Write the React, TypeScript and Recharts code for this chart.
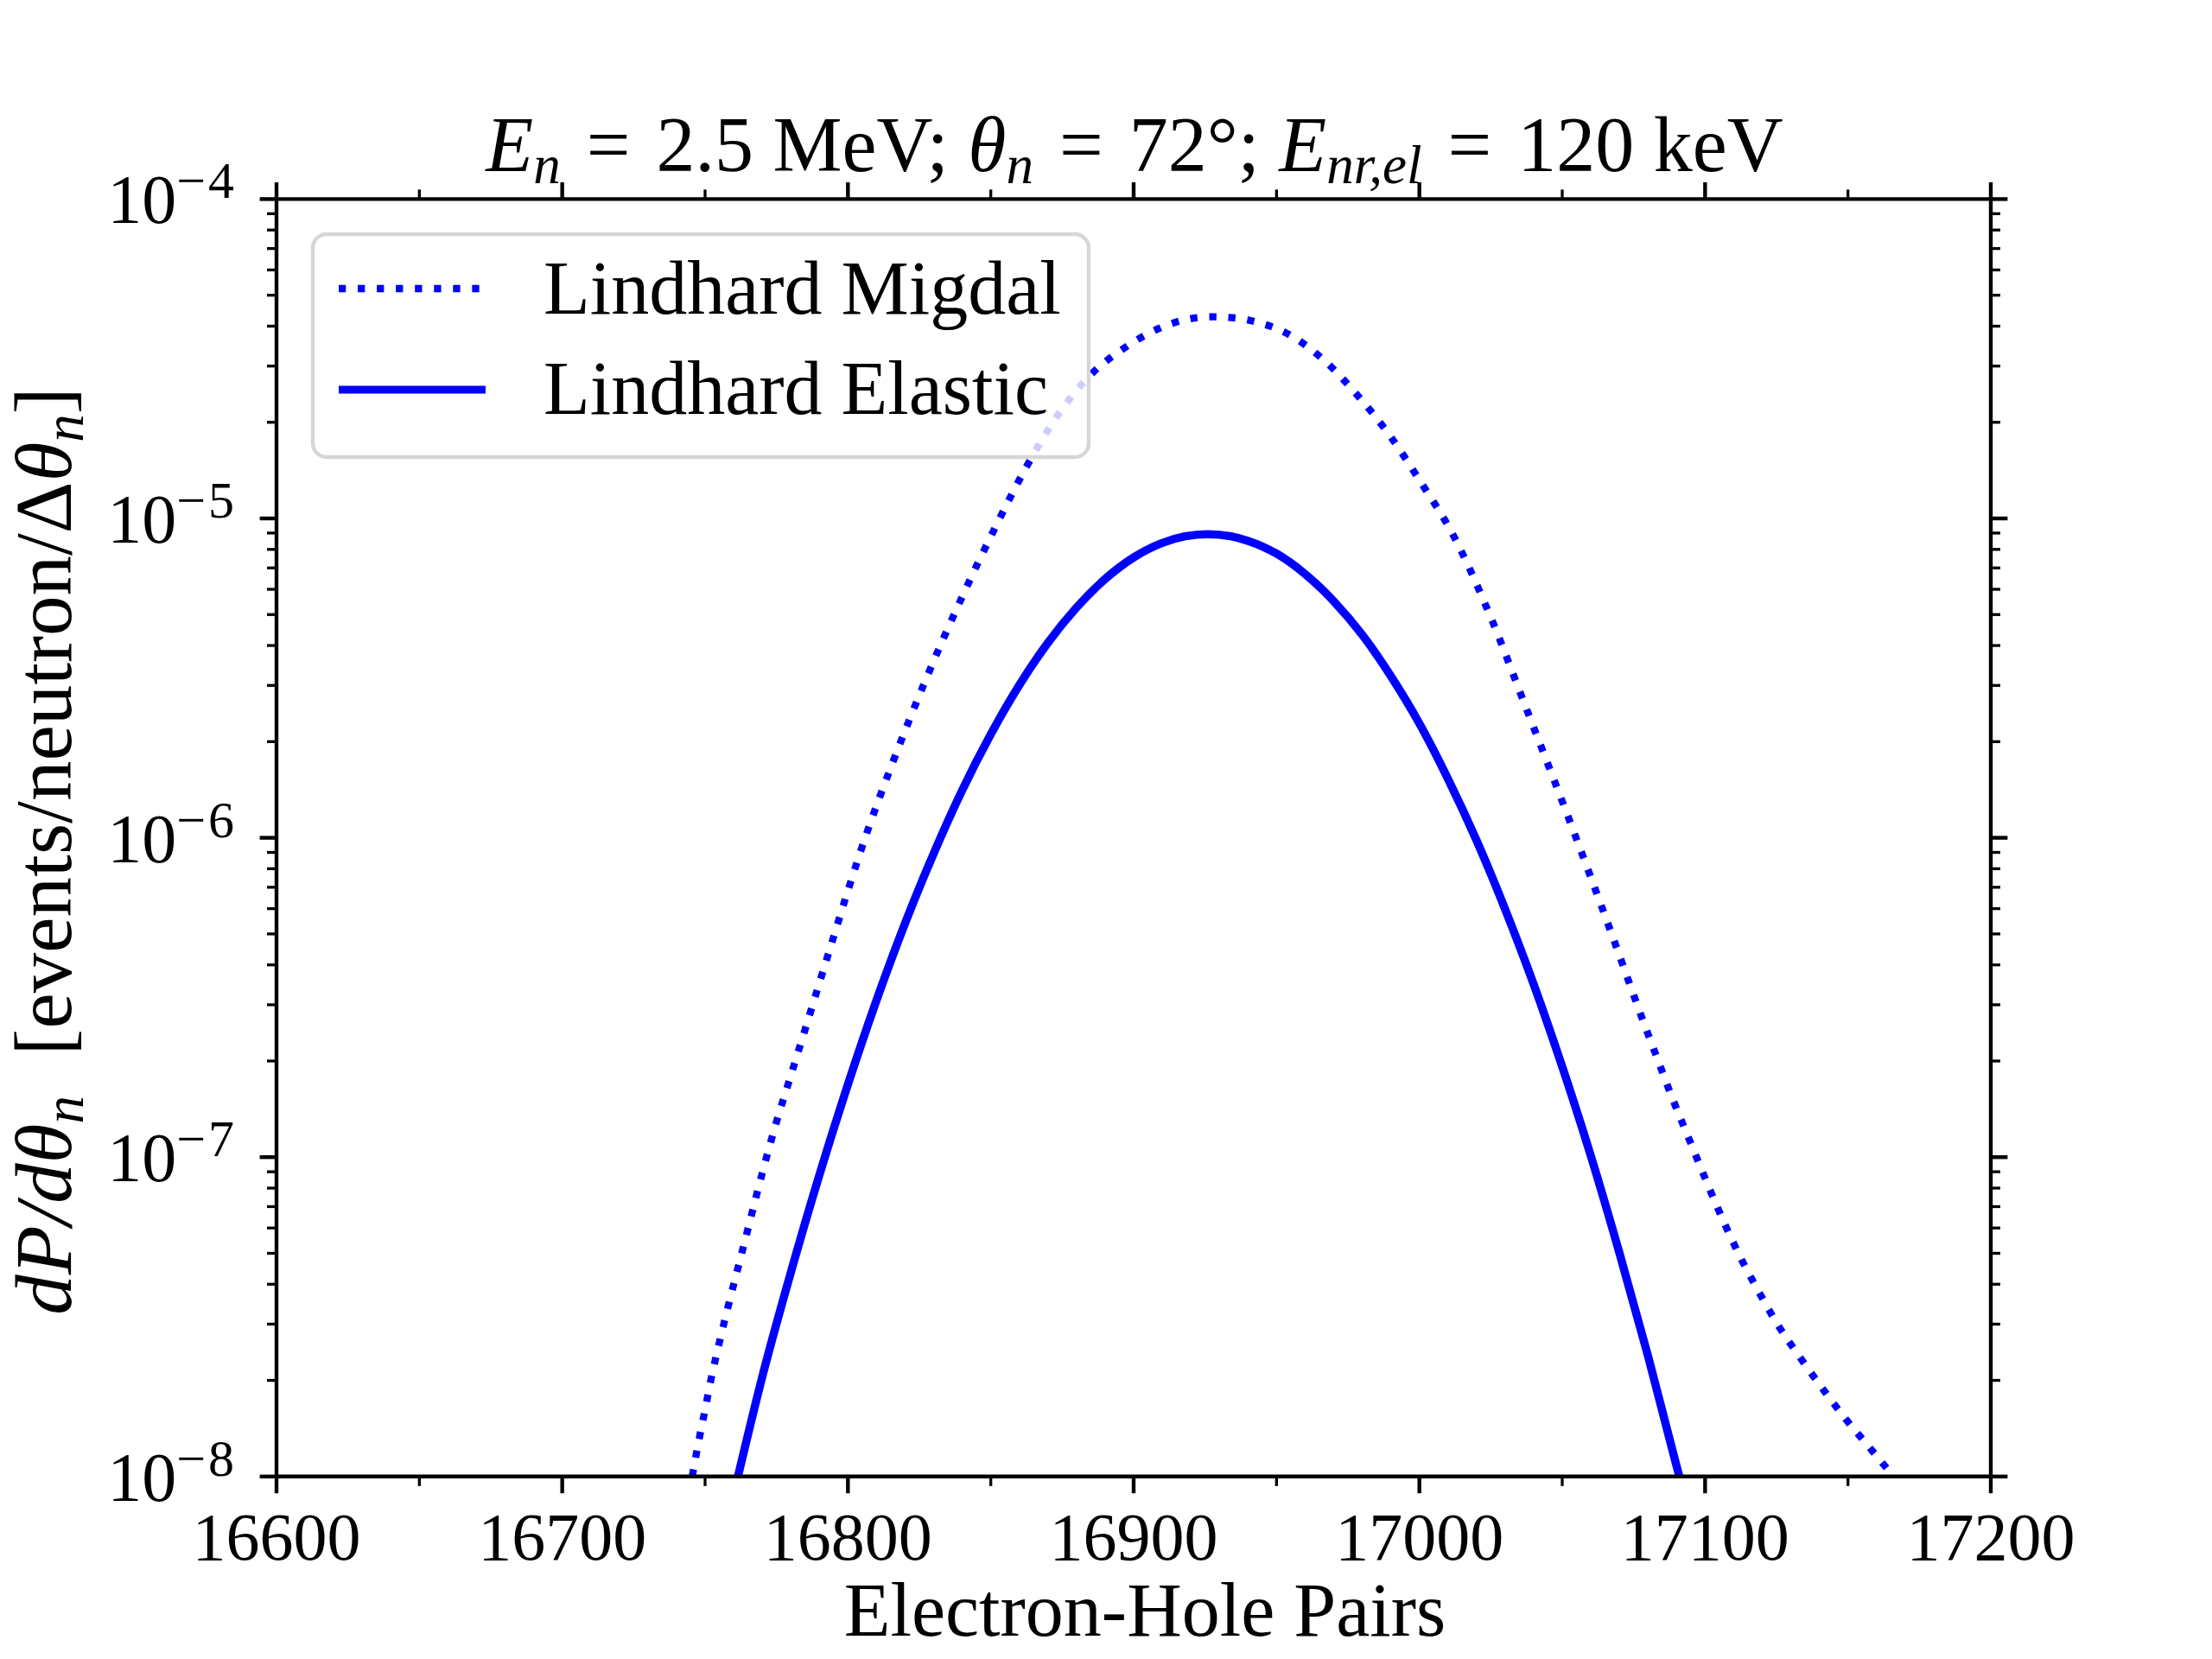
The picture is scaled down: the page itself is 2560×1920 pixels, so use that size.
import React from 'react';
import { LineChart, Line, XAxis, YAxis } from 'recharts';

// values (x = electron-hole pairs, y = dP/dθn)
const migdalX = [
  16745.5, 16748, 16750, 16752, 16755, 16758, 16762, 16766, 16770, 16775,
  16780, 16785, 16790, 16795, 16800, 16807, 16815, 16827, 16840, 16852,
  16863, 16874, 16885, 16897, 16909, 16918, 16927, 16936, 16943, 16955,
  16966.6, 16978, 16990, 17000, 17012, 17025, 17037, 17045, 17052.6, 17058.6,
  17064.6, 17070.7, 17076.7, 17082.8, 17088.8, 17094.9, 17100.9, 17106.9, 17113, 17119,
  17125.1, 17133.1, 17141.2, 17149.3, 17157.3, 17166,
];
const migdalY = [
  1.0e-8, 1.32e-8, 1.62e-8, 2.0e-8, 2.63e-8, 3.39e-8, 4.68e-8, 6.46e-8, 8.91e-8, 1.29e-7,
  1.8e-7, 2.51e-7, 3.51e-7, 4.9e-7, 6.84e-7, 1.06e-6, 1.66e-6, 3.09e-6, 5.69e-6, 9.55e-6,
  1.48e-5, 2.14e-5, 2.82e-5, 3.43e-5, 3.94e-5, 4.19e-5, 4.28e-5, 4.24e-5, 4.12e-5, 3.74e-5,
  3.13e-5, 2.45e-5, 1.8e-5, 1.32e-5, 8.81e-6, 4.9e-6, 2.6e-6, 1.7e-6, 1.13e-6, 8.13e-7,
  5.82e-7, 4.12e-7, 2.92e-7, 2.09e-7, 1.51e-7, 1.11e-7, 8.22e-8, 6.17e-8, 4.73e-8, 3.76e-8,
  3.02e-8, 2.37e-8, 1.88e-8, 1.51e-8, 1.24e-8, 1.0e-8,
];

const elasticX = [
  16761.5, 16770, 16780, 16790, 16800, 16810, 16820, 16830, 16840, 16850,
  16860, 16870, 16880, 16890, 16900, 16910, 16918, 16926, 16934, 16940,
  16950, 16960, 16970, 16980, 16990, 17000, 17010, 17020, 17030, 17040,
  17050, 17060, 17070, 17080, 17090, 17091,
];
const elasticY = [
  1.0e-8, 2.05e-8, 4.35e-8, 8.79e-8, 1.69e-7, 3.1e-7, 5.4e-7, 8.93e-7, 1.41e-6, 2.11e-6,
  3.01e-6, 4.08e-6, 5.26e-6, 6.46e-6, 7.55e-6, 8.38e-6, 8.79e-6, 8.93e-6, 8.79e-6, 8.51e-6,
  7.76e-6, 6.7e-6, 5.51e-6, 4.32e-6, 3.21e-6, 2.28e-6, 1.53e-6, 9.82e-7, 5.98e-7, 3.48e-7,
  1.92e-7, 1.01e-7, 5.02e-8, 2.39e-8, 1.08e-8, 1.0e-8,
];

const xTicks = [16600, 16650, 16700, 16750, 16800, 16850, 16900, 16950, 17000, 17050, 17100, 17150, 17200];
const yDecades = [-8, -7, -6, -5, -4];
const yMinorSteps = [2, 3, 4, 5, 6, 7, 8, 9];

const migdalData = migdalX.map((x, i) => ({ x, y: migdalY[i] }));
const elasticData = elasticX.map((x, i) => ({ x, y: elasticY[i] }));
const yTicks: number[] = [];
yDecades.forEach((d, i) => {
  yTicks.push(Math.pow(10, d));
  if (i < yDecades.length - 1) yMinorSteps.forEach((m) => yTicks.push(m * Math.pow(10, d)));
});

const W = 2560;
const H = 1920;
const FONT = '"Liberation Serif", "DejaVu Serif", serif';
const BLUE = '#0000ff';
const MAJOR = 19.4;
const MINOR = 11;
const DOTS = '8.3 13.75';
const EQ = '\u2004=\u2004';

const isDecade = (v: number) => Math.abs(Math.log10(v) - Math.round(Math.log10(v))) < 1e-6;

const XTick = (props: any) => {
  const { x, y, payload, side } = props;
  const major = payload.value % 100 === 0;
  const len = major ? MAJOR : MINOR;
  const dir = side === 'top' ? -1 : 1;
  return (
    <g>
      <line x1={x} x2={x} y1={y} y2={y + dir * len} stroke="#000" strokeWidth={major ? 4.4 : 3.3} />
      {major && side === 'bottom' && (
        <text x={x} y={y + 96} textAnchor="middle" fontFamily={FONT} fontSize={78} fill="#000">
          {payload.value}
        </text>
      )}
    </g>
  );
};

const YTick = (props: any) => {
  const { x, y, payload, side } = props;
  const major = isDecade(payload.value);
  const len = major ? MAJOR : MINOR;
  const dir = side === 'right' ? 1 : -1;
  const exp = Math.round(Math.log10(payload.value));
  return (
    <g>
      <line x1={x} x2={x + dir * len} y1={y} y2={y} stroke="#000" strokeWidth={major ? 4.4 : 3.3} />
      {major && side === 'left' && (
        <text x={x - 46} y={y + 28} textAnchor="end" fontFamily={FONT} fontSize={80} fill="#000">
          10
          <tspan dy={-29} fontSize={60} letterSpacing={3}>{'\u2212' + Math.abs(exp)}</tspan>
        </text>
      )}
    </g>
  );
};

const Overlay = () => (
  <svg width={W} height={H} style={{ position: 'absolute', left: 0, top: 0, pointerEvents: 'none' }}>
    {/* title */}
    <text x={1313} y={198} textAnchor="middle" fontFamily={FONT} fontSize={90} fill="#000">
      <tspan fontStyle="italic">E</tspan>
      <tspan fontStyle="italic" fontSize={63} dy={14}>n</tspan>
      <tspan dy={-14}>{EQ + '2.5 MeV; '}</tspan>
      <tspan fontStyle="italic">θ</tspan>
      <tspan fontStyle="italic" fontSize={63} dy={14}>n</tspan>
      <tspan dy={-14}>{EQ + '72°; '}</tspan>
      <tspan fontStyle="italic">E</tspan>
      <tspan fontStyle="italic" fontSize={63} dy={14}>nr,el</tspan>
      <tspan dy={-14}>{EQ + '120 keV'}</tspan>
    </text>

    {/* y label */}
    <text transform="translate(82,985) rotate(-90)" textAnchor="middle" fontFamily={FONT} fontSize={93} fill="#000">
      <tspan fontStyle="italic">dP/dθ</tspan>
      <tspan fontStyle="italic" fontSize={65} dy={14}>n</tspan>
      <tspan dy={-14}>{'\u00a0\u00a0[events/neutron/Δ'}</tspan>
      <tspan fontStyle="italic">θ</tspan>
      <tspan fontStyle="italic" fontSize={65} dy={14}>n</tspan>
      <tspan dy={-14}>]</tspan>
    </text>

    {/* x label */}
    <text x={1325} y={1893} textAnchor="middle" fontFamily={FONT} fontSize={88} fill="#000">
      Electron-Hole Pairs
    </text>

    {/* legend */}
    <rect x={362} y={271} width={898} height={258} rx={16} ry={16}
      fill="#ffffff" fillOpacity={0.8} stroke="#cccccc" strokeOpacity={0.8} strokeWidth={4.4} />
    <line x1={392} x2={562} y1={334} y2={334} stroke={BLUE} strokeWidth={8.3} strokeDasharray={DOTS} />
    <line x1={392} x2={562} y1={451} y2={451} stroke={BLUE} strokeWidth={9} />
    <text x={629} y={363} fontFamily={FONT} fontSize={88} fill="#000">Lindhard Migdal</text>
    <text x={629} y={479} fontFamily={FONT} fontSize={88} fill="#000">Lindhard Elastic</text>
  </svg>
);

export default function App() {
  return (
    <div style={{ position: 'absolute', left: 0, top: 0, width: W, height: H, background: '#fff' }}>
      <LineChart width={W} height={H} margin={{ top: 130.4, right: 156, bottom: 111.2, left: 220 }}>
        <XAxis xAxisId="bottom" dataKey="x" type="number" domain={[16600, 17200]} ticks={xTicks} interval={0}
          allowDataOverflow height={100} tickSize={0} tickMargin={0} tickLine={false}
          axisLine={{ stroke: '#000', strokeWidth: 4.4 }} tick={<XTick side="bottom" />} />
        <XAxis xAxisId="top" orientation="top" dataKey="x" type="number" domain={[16600, 17200]} ticks={xTicks}
          interval={0} allowDataOverflow height={100} tickSize={0} tickMargin={0} tickLine={false}
          axisLine={{ stroke: '#000', strokeWidth: 4.4 }} tick={<XTick side="top" />} />
        <YAxis yAxisId="left" type="number" scale="log" domain={[1e-8, 1e-4]} ticks={yTicks} interval={0}
          allowDataOverflow width={100} tickSize={0} tickMargin={0} tickLine={false}
          axisLine={{ stroke: '#000', strokeWidth: 4.4 }} tick={<YTick side="left" />} />
        <YAxis yAxisId="right" orientation="right" type="number" scale="log" domain={[1e-8, 1e-4]} ticks={yTicks}
          interval={0} allowDataOverflow width={100} tickSize={0} tickMargin={0} tickLine={false}
          axisLine={{ stroke: '#000', strokeWidth: 4.4 }} tick={<YTick side="right" />} />
        <Line xAxisId="bottom" yAxisId="left" data={migdalData} dataKey="y" type="monotone" stroke={BLUE}
          strokeWidth={8.3} strokeDasharray={DOTS} dot={false} isAnimationActive={false} />
        <Line xAxisId="bottom" yAxisId="left" data={elasticData} dataKey="y" type="monotone" stroke={BLUE}
          strokeWidth={9.5} dot={false} isAnimationActive={false} />
      </LineChart>
      <Overlay />
    </div>
  );
}
